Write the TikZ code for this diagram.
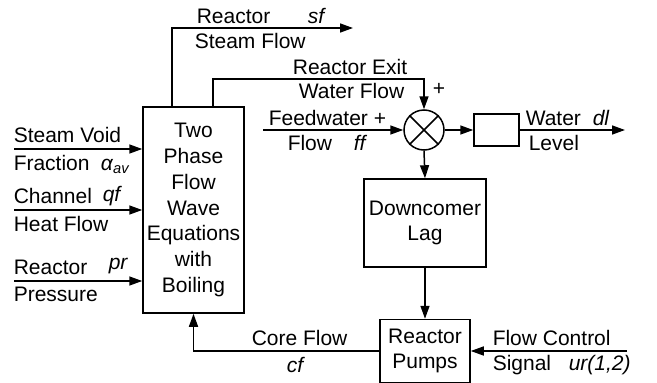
\documentclass[tikz,border=0pt]{standalone}
\usepackage{fontspec}
\setmainfont{Liberation Sans}
\usetikzlibrary{positioning, arrows.meta}

\begin{document}
\begin{tikzpicture}[x=1pt, y=-1pt,
    font=\fontsize{21}{25.8}\selectfont,
    line width=1.5pt,
    blockbox/.style={draw, rectangle, inner sep=0pt, align=center},
    sumnode/.style={draw, circle, minimum size=40pt, inner sep=0pt},
    flow/.style={-{Triangle[length=13pt, width=9pt]}},
    lbl/.style={inner sep=0pt, anchor=base west}]
    \useasboundingbox (0,0) rectangle (657,383);

    % Blocchi del modello
    \node[blockbox, minimum width=101pt, minimum height=206pt] (wave) at (193.5,210)
        {Two\\Phase\\Flow\\Wave\\Equations\\with\\Boiling};
    \node[sumnode] (sum) at (424,130) {};
    \draw (sum.north west) -- (sum.south east) (sum.north east) -- (sum.south west);
    \node[blockbox, minimum width=45pt, minimum height=32pt] (lvl) at (496.5,130) {};
    \node[blockbox, minimum width=122pt, minimum height=88pt] (dcomer) at (425,223) {Downcomer\\Lag};
    \node[blockbox, minimum width=90pt, minimum height=63pt] (pumps) at (425,351) {Reactor\\Pumps};

    % Estremi liberi dei segnali
    \coordinate (avin) at (14,149);
    \coordinate (qfin) at (14,210);
    \coordinate (prin) at (14,281);
    \coordinate (sfout) at (353,28);
    \coordinate (exitbend) at (213,79);
    \coordinate (ffin) at (263,130);
    \coordinate (dlout) at (625,130);
    \coordinate (urin) at (627,351);

    % Ingressi a sinistra
    \draw[flow] (avin) -- (avin -| wave.west);
    \draw[flow] (qfin) -- (qfin -| wave.west);
    \draw[flow] (prin) -- (prin -| wave.west);

    % Uscite del blocco principale
    \draw[flow] ([xshift=-21.5pt]wave.north) |- (sfout);
    \draw[flow] (exitbend |- wave.north) -- (exitbend) -| (sum.north);

    % Anello del livello
    \draw[flow] (ffin) -- (sum.west);
    \draw[flow] (sum.east) -- (lvl.west);
    \draw[flow] (lvl.east) -- (dlout);
    \draw[flow] (sum.south) -- (dcomer.north);
    \draw[flow] (dcomer.south) -- (pumps.north);
    \draw[flow] (urin) -- (pumps.east);
    \draw[flow] (pumps.west) -| (wave.south);

    % Etichette
    \node[lbl] (avtxt) at (13,142) {Steam Void};
    \node[lbl] (avname) at (13,170) {Fraction};
    \node[lbl] (avsym) at (100,170) {\textit{α}\textsubscript{\textit{av}}};
    \node[lbl] (qftxt) at (13,203) {Channel};
    \node[lbl] (qfsym) at (102,201) {\itshape qf};
    \node[lbl] (qfname) at (13,231) {Heat Flow};
    \node[lbl] (prtxt) at (13,274) {Reactor};
    \node[lbl] (prsym) at (108,269) {\itshape pr};
    \node[lbl] (prname) at (13,301) {Pressure};
    \node[lbl] (sftxt) at (196,23) {Reactor};
    \node[lbl] (sfsym) at (307,23) {\itshape sf};
    \node[lbl] (sfname) at (194,48) {Steam Flow};
    \node[lbl, anchor=base east] (extxt) at (408,74) {Reactor Exit};
    \node[lbl, anchor=base east] (exname) at (405,98) {Water Flow};
    \node[lbl] (explus) at (432,95) {+};
    \node[lbl] (fftxt) at (268,125) {Feedwater +};
    \node[lbl] (ffname) at (287,150) {Flow};
    \node[lbl] (ffsym) at (353,150) {\itshape ff};
    \node[lbl] (dltxt) at (525,125) {Water};
    \node[lbl] (dlsym) at (592,125) {\itshape dl};
    \node[lbl] (dlname) at (528,150) {Level};
    \node[lbl] (urtxt) at (492,345) {Flow Control};
    \node[lbl] (urname) at (492,370) {Signal};
    \node[lbl] (ursym) at (568,370) {\itshape ur(1,2)};
    \node[lbl] (cftxt) at (251,345) {Core Flow};
    \node[lbl] (cfsym) at (286,372) {\itshape cf};
\end{tikzpicture}
\end{document}
